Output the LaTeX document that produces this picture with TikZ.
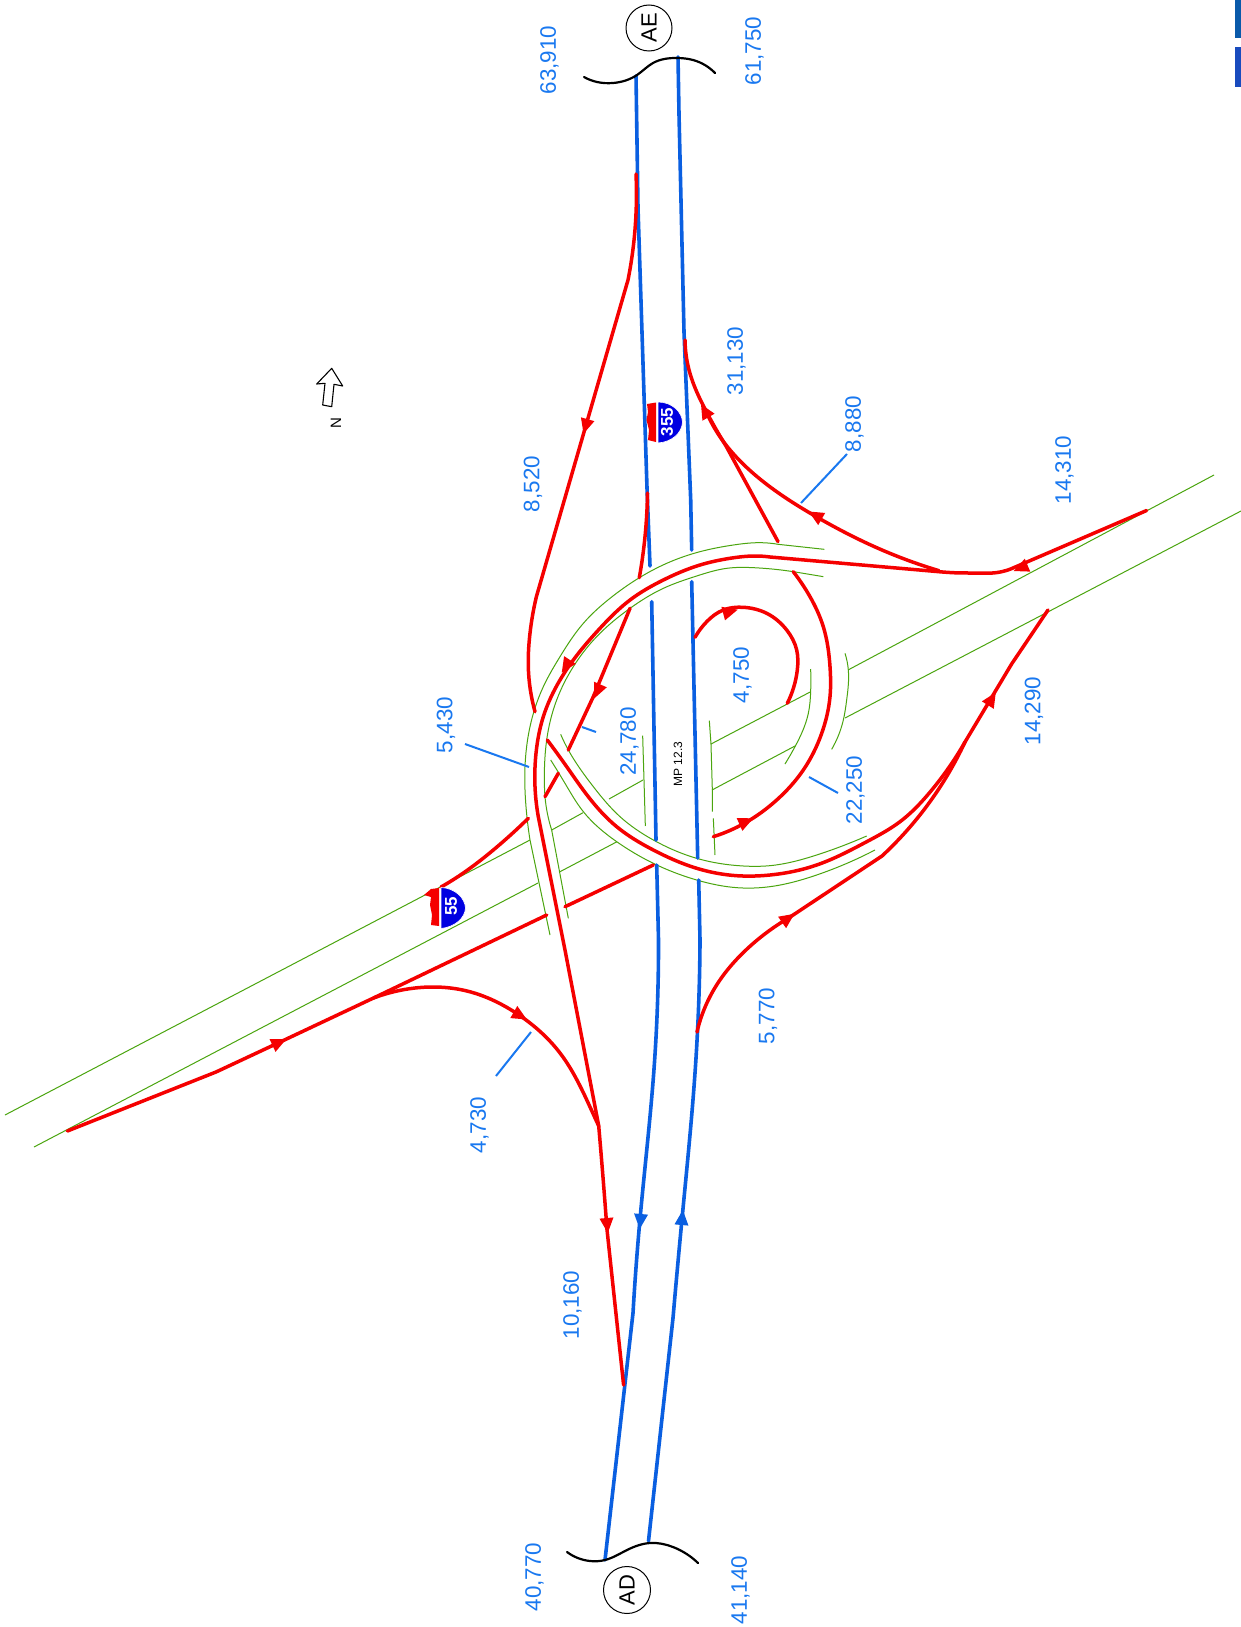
\documentclass[tikz,border=0pt]{standalone}
\usepackage{fontspec}
\usetikzlibrary{hobby}
\setmainfont{Liberation Sans}
\definecolor{rd}{RGB}{245,0,0}
\definecolor{bl}{RGB}{10,95,225}
\definecolor{gr}{RGB}{75,165,15}
\definecolor{lb}{RGB}{25,120,240}
\definecolor{shb}{RGB}{0,0,225}
\definecolor{edgea}{RGB}{10,90,170}
\definecolor{edgeb}{RGB}{25,75,190}
\tikzset{
 redroad/.style={draw=rd,line width=3.5pt,line cap=round,line join=round,use Hobby shortcut},
 blueroad/.style={draw=bl,line width=3.6pt,line cap=round,line join=round,use Hobby shortcut},
 greenline/.style={draw=gr,line width=1pt},
 greencurve/.style={draw=gr,line width=1pt,use Hobby shortcut},
 leader/.style={draw=lb,line width=2pt},
 curveline/.style={draw=black,line width=2.2pt,line cap=round,use Hobby shortcut},
 countlabel/.style={text=lb,font=\fontsize{22.4}{22.4}\selectfont,rotate=90,inner sep=0pt},
 circlabel/.style={circle,draw=black,line width=1pt,minimum size=46pt,inner sep=0pt,font=\fontsize{22}{22}\selectfont,rotate=90},
 zoomed/.style={x=0.33333pt,y=-0.33333pt,shift={(450pt,-500pt)}}
}
\newcommand{\rtip}[3]{\fill[rd,shift={(#1,#2)},rotate=#3] (9pt,0pt)--(-6pt,7pt)--(-6pt,-7pt)--cycle;}
\newcommand{\btip}[3]{\fill[bl,shift={(#1,#2)},rotate=#3] (9pt,0pt)--(-6pt,7pt)--(-6pt,-7pt)--cycle;}
\begin{document}
\begin{tikzpicture}[x=1pt,y=-1pt]
\useasboundingbox (0,0) rectangle (1241,1627);
\fill[white] (0,0) rectangle (1241,1627);
\fill[edgea] (1235,0) rectangle (1241,38);
\fill[edgeb] (1235,47) rectangle (1241,87);

% --- green I-55 edges ---
\draw[greenline] (1214,475) -- (848,670);
\draw[greenline] (810.7,691.7) -- (711,744);
\draw[greenline] (643,780) -- (609,799);
\draw[greenline] (583,812.7) -- (551.7,830);
\draw[greenline] (530,840) -- (5,1115);
\draw[greenline] (1241,511) -- (845,718);
\draw[greenline] (795,746) -- (712,790);
\draw[greenline] (617,841.7) -- (560,871.7);
\draw[greenline] (538,883) -- (34,1147);

\begin{scope}[zoomed]
\draw[greencurve] (1123,148)--(985,133)..(930,128)..(850,135)..(750,155)..(650,190)..(565,235)..(480,295)..(400,370)..(330,470)..(280,560)..(240,680)..(225,800)..(228,920)..(240,1020)--(300,1305);
\draw[greencurve] (1120,230)--(1030,215)..(910,203)..(830,205)..(740,228)..(640,265)..(540,325)..(440,410)..(370,500)..(320,600)..(290,720)..(283,830)..(285,890)..(305,990)--(355,1255);
\draw[greencurve] (332,703)..(355,750)..(430,860)..(510,950)..(610,1020)..(740,1075)..(880,1098)..(960,1097)..(1100,1065)..(1250,1008);
\draw[greencurve] (302,780)..(345,850)..(400,935)..(500,1025)..(610,1090)..(740,1140)..(860,1163)..(960,1160)..(1100,1125)..(1275,1050);
\draw[greencurve] (1082,507)..(1082,575)..(1075,640)..(1035,740)..(1005,792);
\draw[greencurve] (1185,460)..(1195,510)..(1190,600)..(1180,660)..(1145,748);
\draw[greenline] (778,662) -- (783,733) -- (787,870) -- (787,935);
\draw[greenline] (790,955) -- (795,1065);
\draw[greenline] (578,707) -- (582,840) -- (586,978);
\end{scope}

% --- blue freeway ---
\draw[blueroad] (636,76)--(638,208)--(647,488)--(650,566);
\draw[blueroad] (651.7,601.7) -- (656,840);
\draw[blueroad] (656.7,865)--(658.5,940)..(654,1069)..(640,1219)..(633,1313)--(605,1560);
\draw[blueroad] (678,57)--(679,114)--(684,332)--(690.7,500)--(691.7,550);
\draw[blueroad] (691.7,581.7) -- (697.7,858);
\draw[blueroad] (698.7,880)--(700,940)..(696,1058)..(682,1219)..(673,1318)--(648.5,1541);
\btip{640.5}{1220}{265}
\btip{682}{1219}{85}

% --- red ramps ---
\draw[redroad] (1146.6,510.5)--(1011.6,568.6) to[out=-158,in=0] (970,573) to[out=180,in=-5] (939,571.7) -- (770,557) ..(756.7,556)..(730,558.3)..(700,565)..(663.3,580)..(630,600)..(600,628.3)..(573.3,660)..(560,680)..(543.3,716.7)..(536,753.3)..(535,786.7)..(538.3,816.7)--(565,950)--(598.7,1125.8)..(604,1190)..(607,1229.6)--(623.6,1385);
\draw[redroad] (547.3,740)..(566.7,766.7)..(588.3,796.7)..(616.7,826.7)..(653.3,850)..(696.7,868.3)..(736.7,875.7)..(770,875)..(816.7,865)..(866.7,841.7)..(900,821.7)..(928.6,793.8)..(965,742)--(1011.6,664)--(1048,610);
\draw[redroad] (697,1032)..(716,986)..(747,949)..(788.6,918)--(882,856)..(939,788.6)..(965,742);
\draw[redroad] (793.3,571.7)..(810,596.7)..(823.3,626.7)..(830,666.7)..(830,696.7)..(821.7,733.3)..(803.3,770)..(776.7,800)..(750,820)..(713.3,836.7);
\draw[redroad] (695,637.3)..(706.7,621.7)..(723.3,610)..(743.3,607.3)..(766.7,613.3)..(786.7,630)..(796.7,650)..(797.3,670)..(787.3,703.3);
\draw[redroad] (636,174)..(633,249)..(628,280)--(536.4,596.6)..(529.3,640)..(528.3,666.7)..(535,711.7);
\draw[redroad] (528.3,818.3)..(493.3,850)..(450,881.7)..(441,887);
\draw[redroad] (647.5,493)..(645,536.7)..(639.3,577.7);
\draw[redroad] (630,608.3) -- (593.3,696.7) -- (568.3,750);
\draw[redroad] (558.3,773.3) -- (545,796.7);
\draw[redroad] (653.3,865) -- (565,906.7);
\draw[redroad] (546.7,915) -- (373.5,998) -- (278,1043) -- (216,1072) -- (67.4,1131);
\draw[redroad] (373.5,998)..(415,988)..(467,991)..(519,1015)..(560,1053)..(591.4,1110)..(598.7,1126);
\draw[redroad] (778,541.6)--(726,446)..(705.5,410)..(690,373.5)..(685,340);
\draw[redroad] (939,570.7)..(882,550)..(814.5,515.7)..(757.5,477)..(716,430.6)..(705.5,410);

\rtip{586}{425}{254}
\rtip{566.7}{665}{237}
\rtip{598}{690}{246.5}
\rtip{745}{822}{24}
\rtip{729}{612}{15}
\rtip{787}{919}{35}
\rtip{991}{700}{58}
\rtip{519}{1015}{330}
\rtip{278}{1043}{25}
\rtip{607}{1224}{275}
\rtip{1022}{567.5}{203}
\rtip{816.5}{516}{150}
\rtip{705.5}{412}{120}

% --- leaders ---
\draw[leader] (847,454) -- (801,503);
\draw[leader] (465,744) -- (529,767);
\draw[leader] (582,727) -- (596,732);
\draw[leader] (809,777) -- (838,793);
\draw[leader] (531,1032) -- (496,1076);

% --- break curves ---
\draw[curveline] (584,77)..(597,82)..(613,83)..(637,75)..(653,63)..(677,58)..(693,60)..(715,73);
\draw[curveline] (567,1552)..(590,1561)..(605,1560)..(627,1550)..(650,1543)..(673,1547)..(698,1563);
\node[circlabel] (ae) at (649,28) {AE};
\node[circlabel,minimum size=47pt] (ad) at (627,1590) {AD};

% --- traffic counts ---
\node[countlabel] (c1) at (549.5,60) {63,910};
\node[countlabel] (c2) at (754.5,51) {61,750};
\node[countlabel] (c3) at (736.5,361) {31,130};
\node[countlabel] (c4) at (854.5,424) {8,880};
\node[countlabel] (c5) at (1064.5,470) {14,310};
\node[countlabel] (c6) at (533,484) {8,520};
\node[countlabel] (c7) at (446,725) {5,430};
\node[countlabel] (c8) at (629.5,741.5) {24,780};
\node[countlabel] (c9) at (742.5,675) {4,750};
\node[countlabel] (c10) at (855.5,790) {22,250};
\node[countlabel] (c11) at (1034,711) {14,290};
\node[countlabel] (c12) at (768,1016) {5,770};
\node[countlabel] (c13) at (479.5,1125) {4,730};
\node[countlabel] (c14) at (572.5,1305) {10,160};
\node[countlabel] (c15) at (534.5,1577) {40,770};
\node[countlabel] (c16) at (740.5,1590) {41,140};
\node[rotate=90,inner sep=0pt,font=\fontsize{12}{12}\selectfont] (mp) at (678,764) {MP 12.3};

% --- north arrow ---
\draw[black,line width=1.1pt,line join=round] (331.7,368.3) -- (342.7,386) -- (334,384.3) -- (331.7,406.7) -- (322.7,405) -- (325,383.3) -- (316.7,384) -- cycle;
\node[rotate=90,inner sep=0pt,font=\fontsize{15}{15}\selectfont] (north) at (336,423) {N};

% --- shields ---
\fill[rd] (424,895) -- (431,889) -- (439,888) -- (439,926) -- (431,925) -- (432,915) -- (430,905) -- (431,897) -- cycle;
\filldraw[fill=shb,draw=white,line width=0.6pt] (441,887.5) .. controls (455,888) and (465,898) .. (465.5,908) .. controls (465,918) and (455,927) .. (441,928.5) -- cycle;
\node[rotate=90,text=white,inner sep=0pt,font=\fontsize{17}{17}\selectfont\bfseries] (s55) at (451,906.5) {55};
\fill[rd] (647,404) -- (656,402.5) -- (656,442) -- (648,440) -- (649,430) -- (646.5,420) -- (648,412) -- cycle;
\filldraw[fill=shb,draw=white,line width=0.6pt] (658,402) .. controls (672,402) and (682,412) .. (682.5,422) .. controls (682,433) and (672,442) .. (658,443) -- cycle;
\node[rotate=90,text=white,inner sep=0pt,font=\fontsize{17}{17}\selectfont\bfseries] (s355) at (667,422) {355};
\end{tikzpicture}
\end{document}
